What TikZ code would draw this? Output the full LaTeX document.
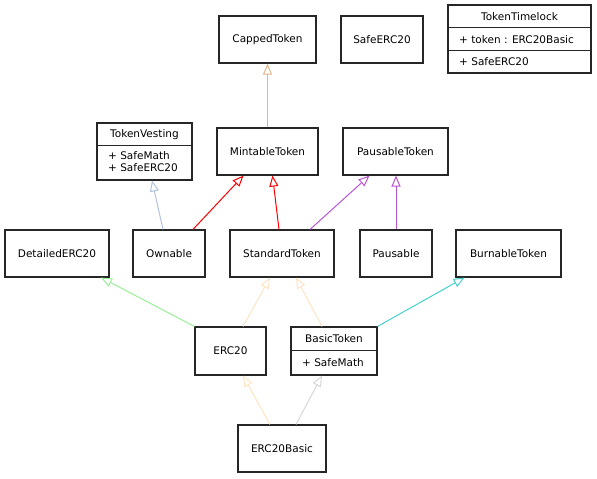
\documentclass[tikz,border=0pt]{standalone}
\usepackage{fontspec}
\setmainfont{DejaVu Sans}
\usetikzlibrary{arrows.meta,calc}
\definecolor{cburly}{HTML}{DEB887}
\definecolor{csteel}{HTML}{B0C4DE}
\definecolor{corchid}{HTML}{BA55D3}
\definecolor{cgreen}{HTML}{98F098}
\definecolor{cpeach}{HTML}{FFE4C4}
\definecolor{cturq}{HTML}{48D1CC}
\definecolor{cgray}{HTML}{D8D8D8}
\begin{document}
\begin{tikzpicture}[x=1pt,y=-1pt,
  cls/.style={draw=black!85, line width=1.1pt, inner sep=0pt, minimum height=47pt, font=\fontsize{10.5}{12.5}\selectfont},
  txt/.style={inner sep=0pt, font=\fontsize{10.5}{12.5}\selectfont},
  inh/.style={draw=#1, line width=1pt, -{Triangle[open, length=11pt, width=9pt]}}]
\useasboundingbox (0,0) rectangle (597,479);
% top row
\node[cls, minimum width=97pt] (ct) at (267.5,39.5) {CappedToken};
\node[cls, minimum width=82pt] (se) at (382,39.5) {SafeERC20};
\node[cls, minimum width=143pt, minimum height=68pt] (tt) at (519.5,39) {};
\draw[line width=1.1pt, draw=black!85] ($(tt.north west)+(0,23)$) -- ($(tt.north east)+(0,23)$);
\draw[line width=1.1pt, draw=black!85] ($(tt.north west)+(0,46)$) -- ($(tt.north east)+(0,46)$);
\node[txt] (ttn) at (519.5,17) {TokenTimelock};
\node[txt, anchor=west] (tta) at (459,39.5) {+ token : ERC20Basic};
\node[txt, anchor=west] (ttb) at (459,61.5) {+ SafeERC20};
% second row
\node[cls, minimum width=95pt, minimum height=57pt] (tv) at (144.5,151.5) {};
\draw[line width=1.1pt, draw=black!85] ($(tv.north west)+(0,23)$) -- ($(tv.north east)+(0,23)$);
\node[txt] (tvn) at (144.5,135) {TokenVesting};
\node[txt, anchor=west] (tva) at (108,156) {+ SafeMath};
\node[txt, anchor=west] (tvb) at (108,168) {+ SafeERC20};
\node[cls, minimum width=101pt] (mt) at (267.5,151.5) {MintableToken};
\node[cls, minimum width=105pt] (pt) at (395.5,151.5) {PausableToken};
% third row
\node[cls, minimum width=104pt] (de) at (57,253.5) {DetailedERC20};
\node[cls, minimum width=72pt] (ow) at (169,253.5) {Ownable};
\node[cls, minimum width=104pt] (st) at (282,253.5) {StandardToken};
\node[cls, minimum width=72pt] (pa) at (396,253.5) {Pausable};
\node[cls, minimum width=105pt] (bt) at (508.5,253.5) {BurnableToken};
% fourth row
\node[cls, minimum width=71pt, minimum height=48pt] (e20) at (230.5,351) {ERC20};
\node[cls, minimum width=86pt, minimum height=48pt] (bk) at (334,351) {};
\draw[line width=1.1pt, draw=black!85] ($(bk.north west)+(0,24)$) -- ($(bk.north east)+(0,24)$);
\node[txt] (bkn) at (334,339) {BasicToken};
\node[txt, anchor=west] (bka) at (302,363) {+ SafeMath};
% bottom
\node[cls, minimum width=88pt] (eb) at (282,448.5) {ERC20Basic};
% edges
\draw[inh=cburly] (mt.north) -- (ct.south);
\draw[inh=csteel] ([xshift=-6pt]ow.north) -- ([xshift=7.5pt]tv.south);
\draw[inh=red] ([xshift=24pt]ow.north) -- ([xshift=-24pt]mt.south);
\draw[inh=red] ([xshift=-3pt]st.north) -- ([xshift=5pt]mt.south);
\draw[inh=corchid] ([xshift=28pt]st.north) -- ([xshift=-26pt]pt.south);
\draw[inh=corchid] (pa.north) -- (pa.north |- pt.south);
\draw[inh=cgreen] (e20.north west) -- ([xshift=44pt]de.south);
\draw[inh=cpeach] ([xshift=12.5pt]e20.north) -- ([xshift=-12pt]st.south);
\draw[inh=cpeach] ([xshift=-12pt]bk.north) -- ([xshift=14pt]st.south);
\draw[inh=cturq] (bk.north east) -- ([xshift=-44pt]bt.south);
\draw[inh=cpeach] ([xshift=-12pt]eb.north) -- ([xshift=12.5pt]e20.south);
\draw[inh=cgray] ([xshift=14pt]eb.north) -- ([xshift=-12pt]bk.south);
\end{tikzpicture}
\end{document}
